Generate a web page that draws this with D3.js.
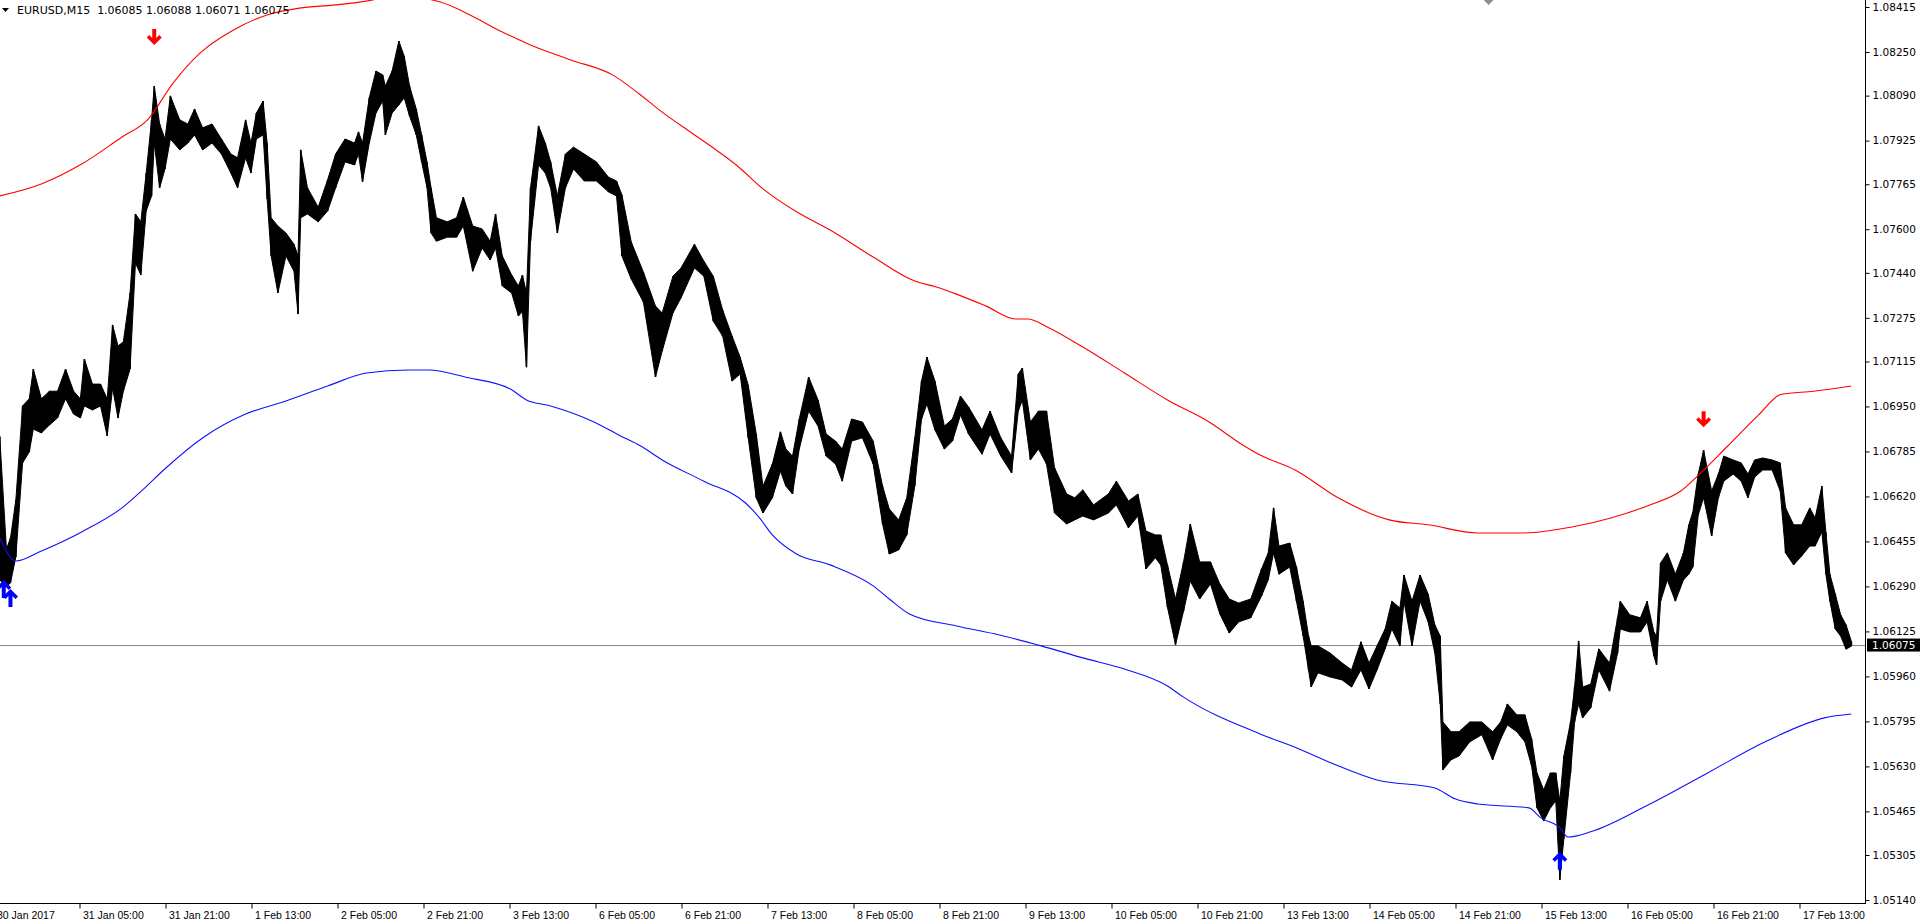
<!DOCTYPE html>
<html><head><meta charset="utf-8">
<script src="https://cdn.jsdelivr.net/npm/d3@7"></script>
<style>html,body{margin:0;padding:0;background:#fff;overflow:hidden}</style>
</head><body><svg id="c" width="1920" height="924"></svg>
<script>
// ---------- DATA ----------
const symbolName = "EURUSD,M15";
const lastOHLC = [1.06085, 1.06088, 1.06071, 1.06075];
const currentPrice = 1.06075;

// time axis: M15 bar index counted from 30 Jan 13:00 (one label every 64 bars)
const timeTickBars = [0,64,128,192,256,320,384,448,512,576,640,704,768,832,896,960,1024,1088,1152,1216,1280,1344];
const timeLabels = ["30 Jan 2017","31 Jan 05:00","31 Jan 21:00","1 Feb 13:00","2 Feb 05:00","2 Feb 21:00","3 Feb 13:00","6 Feb 05:00","6 Feb 21:00","7 Feb 13:00","8 Feb 05:00","8 Feb 21:00","9 Feb 13:00","10 Feb 05:00","10 Feb 21:00","13 Feb 13:00","14 Feb 05:00","14 Feb 21:00","15 Feb 13:00","16 Feb 05:00","16 Feb 21:00","17 Feb 13:00"];
const priceTicks = [1.08415,1.08250,1.08090,1.07925,1.07765,1.07600,1.07440,1.07275,1.07115,1.06950,1.06785,1.06620,1.06455,1.06290,1.06125,1.05960,1.05795,1.05630,1.05465,1.05305,1.05140];

// price path (bar index, high, low)
const candleBars = [5,10,13,17,22,27,30,36,42,48,54,60,65,68,74,80,85,89,93,97,102,106,110,114,118,120,124,128,132,139,145,150,156,163,170,177,182,188,192,196,201,204,207,212,218,224,227,229,234,242,249,255,262,269,272,275,280,285,290,292,297,302,306,310,315,319,323,326,330,338,345,350,357,364,370,374,379,386,391,394,397,400,406,411,415,420,426,432,440,449,458,464,468,475,484,493,498,506,512,522,529,536,543,550,556,562,568,573,580,586,590,595,600,607,614,620,627,632,639,647,655,662,667,674,680,686,691,695,701,708,714,720,726,736,742,750,758,763,766,772,778,784,790,799,805,811,819,830,836,845,852,858,865,869,874,880,886,891,898,906,913,920,927,936,944,949,953,957,965,970,975,979,981,986,995,1004,1011,1018,1024,1030,1036,1041,1047,1050,1056,1062,1068,1073,1077,1079,1085,1091,1099,1108,1116,1122,1127,1134,1140,1145,1149,1154,1159,1163,1166,1169,1174,1177,1180,1183,1189,1195,1203,1209,1211,1218,1226,1231,1236,1238,1241,1246,1252,1258,1262,1265,1269,1273,1279,1284,1288,1295,1301,1306,1311,1317,1324,1330,1334,1340,1346,1352,1356,1361,1364,1367,1371,1375,1379,1383];
const candleHighs = [1.06840,1.06427,1.06467,1.06607,1.06952,1.06978,1.07087,1.06978,1.07006,1.07006,1.07087,1.07006,1.06978,1.07124,1.07032,1.07032,1.06978,1.07249,1.07172,1.07187,1.07366,1.07656,1.07627,1.07806,1.08001,1.08125,1.07986,1.07931,1.08089,1.08001,1.07986,1.08041,1.07972,1.07986,1.07931,1.07876,1.07862,1.08001,1.07916,1.08026,1.08070,1.07916,1.07642,1.07612,1.07586,1.07545,1.07502,1.07891,1.07752,1.07681,1.07781,1.07876,1.07931,1.07916,1.07957,1.07916,1.08082,1.08180,1.08166,1.08125,1.08180,1.08290,1.08235,1.08125,1.08041,1.07946,1.07847,1.07752,1.07642,1.07627,1.07642,1.07718,1.07612,1.07601,1.07556,1.07656,1.07502,1.07432,1.07392,1.07432,1.07366,1.07752,1.07979,1.07916,1.07847,1.07722,1.07876,1.07901,1.07876,1.07847,1.07791,1.07777,1.07726,1.07553,1.07443,1.07318,1.07293,1.07428,1.07458,1.07545,1.07483,1.07428,1.07304,1.07208,1.07131,1.07029,1.06849,1.06658,1.06739,1.06857,1.06794,1.06768,1.06904,1.07058,1.06974,1.06849,1.06823,1.06794,1.06904,1.06893,1.06823,1.06658,1.06574,1.06534,1.06615,1.06835,1.07043,1.07131,1.07043,1.06878,1.06904,1.06988,1.06948,1.06864,1.06933,1.06835,1.06768,1.07069,1.07091,1.06893,1.06933,1.06933,1.06725,1.06629,1.06615,1.06644,1.06589,1.06629,1.06676,1.06603,1.06629,1.06493,1.06479,1.06479,1.06369,1.06244,1.06380,1.06519,1.06380,1.06380,1.06299,1.06244,1.06229,1.06244,1.06354,1.06413,1.06578,1.06438,1.06449,1.06361,1.06236,1.06108,1.06072,1.06072,1.06046,1.06009,1.05984,1.06087,1.06009,1.06072,1.06134,1.06236,1.06211,1.06332,1.06236,1.06332,1.06262,1.06149,1.06108,1.05793,1.05757,1.05757,1.05793,1.05793,1.05757,1.05793,1.05859,1.05819,1.05819,1.05731,1.05606,1.05544,1.05606,1.05606,1.05503,1.05668,1.05793,1.05921,1.06090,1.05921,1.05932,1.06061,1.06009,1.06175,1.06236,1.06186,1.06175,1.06236,1.06123,1.06108,1.06376,1.06413,1.06335,1.06413,1.06516,1.06563,1.06702,1.06790,1.06640,1.06702,1.06768,1.06754,1.06743,1.06702,1.06754,1.06761,1.06754,1.06743,1.06578,1.06516,1.06516,1.06578,1.06541,1.06658,1.06490,1.06335,1.06262,1.06186,1.06149,1.06088];
const candleLows = [1.06314,1.06288,1.06303,1.06398,1.06743,1.06783,1.06867,1.06853,1.06882,1.06908,1.06978,1.06922,1.06908,1.06952,1.06937,1.06952,1.06842,1.07018,1.06908,1.07006,1.07087,1.07476,1.07432,1.07667,1.07722,1.07916,1.07752,1.07821,1.07931,1.07891,1.07916,1.07946,1.07891,1.07916,1.07876,1.07806,1.07752,1.07862,1.07806,1.07931,1.07946,1.07711,1.07502,1.07366,1.07502,1.07446,1.07289,1.07642,1.07656,1.07627,1.07667,1.07752,1.07847,1.07836,1.07876,1.07774,1.07916,1.08026,1.08070,1.07946,1.08026,1.08056,1.08082,1.08015,1.07946,1.07847,1.07752,1.07586,1.07556,1.07571,1.07571,1.07612,1.07446,1.07531,1.07487,1.07531,1.07392,1.07366,1.07282,1.07297,1.07094,1.07556,1.07836,1.07806,1.07752,1.07586,1.07752,1.07821,1.07777,1.07777,1.07737,1.07722,1.07502,1.07417,1.07333,1.07058,1.07153,1.07293,1.07348,1.07458,1.07428,1.07263,1.07208,1.07043,1.07069,1.06835,1.06615,1.06559,1.06615,1.06713,1.06658,1.06629,1.06794,1.06933,1.06878,1.06768,1.06739,1.06676,1.06823,1.06835,1.06739,1.06519,1.06409,1.06424,1.06479,1.06658,1.06904,1.06959,1.06864,1.06794,1.06823,1.06919,1.06849,1.06775,1.06849,1.06768,1.06706,1.06933,1.06974,1.06754,1.06794,1.06739,1.06559,1.06519,1.06534,1.06548,1.06534,1.06559,1.06589,1.06505,1.06548,1.06354,1.06395,1.06369,1.06214,1.06076,1.06200,1.06310,1.06244,1.06299,1.06189,1.06119,1.06160,1.06175,1.06255,1.06314,1.06413,1.06335,1.06361,1.06236,1.06108,1.05984,1.05921,1.05973,1.05958,1.05947,1.05921,1.05984,1.05914,1.05984,1.06061,1.06134,1.06072,1.06236,1.06072,1.06236,1.06160,1.06046,1.05859,1.05617,1.05654,1.05668,1.05720,1.05746,1.05654,1.05731,1.05782,1.05757,1.05720,1.05632,1.05478,1.05430,1.05478,1.05503,1.05214,1.05364,1.05606,1.05793,1.05859,1.05808,1.05845,1.05984,1.05906,1.06046,1.06134,1.06123,1.06123,1.06160,1.06035,1.06002,1.06236,1.06314,1.06236,1.06314,1.06335,1.06361,1.06552,1.06615,1.06475,1.06615,1.06676,1.06702,1.06676,1.06615,1.06691,1.06717,1.06717,1.06640,1.06413,1.06369,1.06402,1.06438,1.06438,1.06490,1.06335,1.06236,1.06134,1.06108,1.06060,1.06071];

// upper (red) envelope
const upperBars = [5,36,66,96,115,134,154,179,204,228,253,273,303,333,355,376,400,430,461,481,496,520,534,554,573,598,623,655,686,702,717,739,761,770,786,811,842,874,905,930,943,969,1001,1039,1068,1105,1140,1175,1204,1233,1256,1270,1291,1314,1331,1355,1383];
const upperValues = [1.07722,1.07766,1.07839,1.07938,1.08001,1.08136,1.08246,1.08331,1.08386,1.08411,1.08422,1.08433,1.08455,1.08433,1.08386,1.08331,1.08276,1.08221,1.08166,1.08096,1.08037,1.07953,1.07905,1.07832,1.07748,1.07664,1.07597,1.07498,1.07410,1.07388,1.07362,1.07318,1.07271,1.07271,1.07238,1.07168,1.07073,1.06974,1.06893,1.06809,1.06772,1.06717,1.06615,1.06534,1.06516,1.06486,1.06486,1.06508,1.06541,1.06589,1.06640,1.06702,1.06805,1.06919,1.06995,1.07006,1.07025];

// lower (blue) envelope
const lowerBars = [5,17,36,66,96,112,127,157,188,218,249,278,309,324,354,385,397,415,446,467,482,498,529,560,570,580,598,623,655,667,682,717,749,780,811,842,874,886,943,972,1001,1030,1073,1088,1105,1143,1152,1166,1172,1189,1233,1276,1320,1363,1383];
const lowerValues = [1.06468,1.06383,1.06420,1.06490,1.06578,1.06647,1.06717,1.06838,1.06922,1.06970,1.07025,1.07073,1.07084,1.07084,1.07055,1.07014,1.06974,1.06952,1.06896,1.06842,1.06805,1.06754,1.06676,1.06596,1.06544,1.06479,1.06409,1.06369,1.06292,1.06244,1.06189,1.06145,1.06112,1.06072,1.06028,1.05987,1.05925,1.05884,1.05749,1.05694,1.05632,1.05580,1.05551,1.05511,1.05492,1.05478,1.05441,1.05405,1.05371,1.05390,1.05492,1.05606,1.05723,1.05808,1.05822];

// signal arrows (bar index, price at arrow tip)
const sellArrowBars = [120, 1273];
const sellArrowPrices = [1.08276, 1.06874];
const buyArrowBars = [8, 13, 1166];
const buyArrowPrices = [1.06314, 1.06281, 1.05317];
const objectBars = [1113];
const objectPrices = [1.08441];

// ---------- CHART ----------
const plotRight = 1865, plotBottom = 903;
const svg = d3.select("#c");
const x = d3.scaleLinear().domain([0, 1344]).range([-7, 1799]);
const y = d3.scaleLinear().domain([1.05140, 1.08415]).range([900, 7]);

svg.append("rect").attr("width",1920).attr("height",924).attr("fill","#fff");
svg.append("defs").append("clipPath").attr("id","plot")
  .append("rect").attr("x",0).attr("y",0).attr("width",plotRight).attr("height",plotBottom);
const plot = svg.append("g").attr("clip-path","url(#plot)");

// current price line
plot.append("line").attr("x1",0).attr("x2",plotRight)
  .attr("y1",Math.round(y(currentPrice))+0.5).attr("y2",Math.round(y(currentPrice))+0.5)
  .attr("stroke","#7f8a96").attr("stroke-width",1);

// candles
const candles = candleBars.map((b,i)=>({bar:b, hi:candleHighs[i], lo:candleLows[i]}));
const area = d3.area().x(d=>x(d.bar)).y0(d=>y(d.lo)).y1(d=>y(d.hi));
plot.append("path").datum(candles).attr("d",area)
  .attr("fill","#000").attr("stroke","#000").attr("stroke-width",1).attr("stroke-linejoin","round");
plot.selectAll("line.wick").data(candles).enter().append("line").attr("class","wick")
  .attr("x1",d=>x(d.bar)).attr("x2",d=>x(d.bar))
  .attr("y1",d=>y(d.hi)).attr("y2",d=>y(d.lo))
  .attr("stroke","#000").attr("stroke-width",1.6);

// envelopes
const line = d3.line().x(d=>x(d.bar)).y(d=>y(d.v)).curve(d3.curveMonotoneX);
plot.append("path").datum(upperBars.map((b,i)=>({bar:b,v:upperValues[i]}))).attr("d",line)
  .attr("fill","none").attr("stroke","#ff0000").attr("stroke-width",1.1);
plot.append("path").datum(lowerBars.map((b,i)=>({bar:b,v:lowerValues[i]}))).attr("d",line)
  .attr("fill","none").attr("stroke","#1010ff").attr("stroke-width",1.1);

// arrows (bold, Wingdings-like)
const downArrow = "M-2,-16 L2,-16 L2,-7 L5,-10 L7.5,-7.5 L0,0 L-7.5,-7.5 L-5,-10 L-2,-7 Z";
const upArrow   = "M-2,18 L2,18 L2,7 L5,10 L7.5,7.5 L0,0 L-7.5,7.5 L-5,10 L-2,7 Z";
plot.selectAll("path.sell").data(sellArrowBars).enter().append("path").attr("class","sell")
  .attr("transform",(d,i)=>`translate(${x(d)},${y(sellArrowPrices[i])})`)
  .attr("d",downArrow).attr("fill","#ff0000");
plot.selectAll("path.buy").data(buyArrowBars).enter().append("path").attr("class","buy")
  .attr("transform",(d,i)=>`translate(${x(d)},${y(buyArrowPrices[i])})`)
  .attr("d",upArrow).attr("fill","#0000ff");
plot.selectAll("path.obj").data(objectBars).enter().append("path").attr("class","obj")
  .attr("transform",(d,i)=>`translate(${x(d)},${y(objectPrices[i])})`)
  .attr("d","M0,-5 L5,0 L0,5 L-5,0 Z").attr("fill","#8a8f96");

// axes lines
svg.append("line").attr("x1",plotRight+0.5).attr("x2",plotRight+0.5).attr("y1",0).attr("y2",plotBottom+1)
  .attr("stroke","#000");
svg.append("line").attr("x1",0).attr("x2",plotRight+1).attr("y1",plotBottom+0.5).attr("y2",plotBottom+0.5)
  .attr("stroke","#000");

// price axis
const yAxis = d3.axisRight(y).tickValues(priceTicks).tickFormat(d3.format(".5f")).tickSize(4).tickSizeOuter(0).tickPadding(3);
const gy = svg.append("g").attr("transform",`translate(${plotRight+0.5},0)`).call(yAxis);
gy.select(".domain").remove();
gy.selectAll("text").attr("font-family","DejaVu Sans").attr("font-size","10.5px").attr("fill","#000");
gy.selectAll("line").attr("stroke","#000");

// time axis
const xAxis = d3.axisBottom(x).tickValues(timeTickBars).tickFormat((d,i)=>timeLabels[i]).tickSize(5).tickSizeOuter(0).tickPadding(3);
const gx = svg.append("g").attr("transform",`translate(0.5,${plotBottom+0.5})`).call(xAxis);
gx.select(".domain").remove();
gx.selectAll("text").attr("text-anchor","start").attr("x",3)
  .attr("font-family","Liberation Sans").attr("font-size","10.5px").attr("fill","#000");
gx.selectAll("line").attr("stroke","#000");

// current price label
const cy = y(currentPrice);
svg.append("rect").attr("x",plotRight+2).attr("y",cy-6.5).attr("width",54).attr("height",13).attr("fill","#000");
svg.append("text").attr("x",plotRight+7).attr("y",cy).attr("dy","0.36em")
  .attr("font-family","DejaVu Sans").attr("font-size","10.5px").attr("fill","#fff")
  .text(d3.format(".5f")(currentPrice));

// header
svg.append("path").attr("d","M2,8 L9,8 L5.5,12 Z").attr("fill","#000");
svg.append("text").attr("x",17).attr("y",14).attr("xml:space","preserve")
  .attr("font-family","DejaVu Sans").attr("font-size","11px").attr("fill","#000")
  .text(symbolName + "  " + lastOHLC.map(d3.format(".5f")).join(" "));
</script></body></html>
